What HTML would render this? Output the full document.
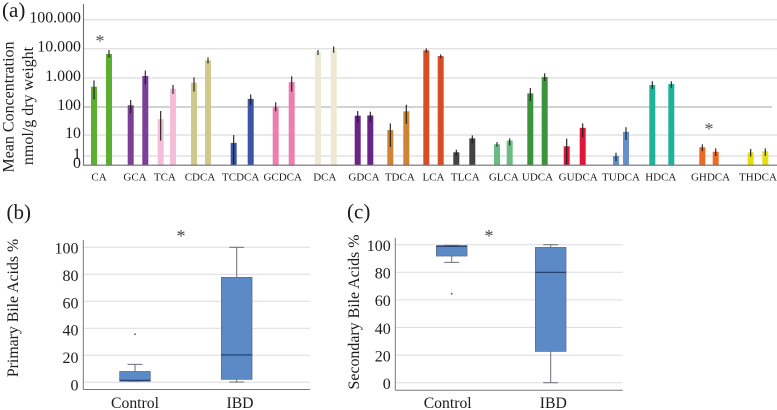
<!DOCTYPE html>
<html lang="en">
<head>
<meta charset="utf-8">
<title>Bile acid concentrations</title>
<style>
html,body{margin:0;padding:0;background:#fff;}
body{width:777px;height:410px;overflow:hidden;}
svg{display:block;font-family:"Liberation Serif",serif;}
text{fill:#1c1c1c;}
</style>
</head>
<body>
<svg id="figure" width="777" height="410" viewBox="0 0 777 410" xmlns="http://www.w3.org/2000/svg">
  <text x="2" y="17" font-size="21">(a)</text>
  <text x="6.5" y="219" font-size="21">(b)</text>
  <text x="347" y="218.5" font-size="21">(c)</text>
  <text transform="translate(13.5,107) rotate(-90)" text-anchor="middle" font-size="16">Mean Concentration</text>
  <text transform="translate(33,106) rotate(-90)" text-anchor="middle" font-size="16">nmol/g dry weight</text>
  <text transform="translate(18,308) rotate(-90)" text-anchor="middle" font-size="15.8">Primary Bile Acids %</text>
  <text transform="translate(359,312) rotate(-90)" text-anchor="middle" font-size="15.9">Secondary Bile Acids %</text>
  <text x="100" y="47" text-anchor="middle" font-size="18" style="fill:#555">*</text>
  <text x="709" y="135" text-anchor="middle" font-size="18" style="fill:#555">*</text>
  <text x="181" y="242" text-anchor="middle" font-size="18" style="fill:#444">*</text>
  <text x="489" y="242" text-anchor="middle" font-size="18" style="fill:#444">*</text>
</svg>
<script>
// ---- Panel (a) data ----
const categories = ["CA","GCA","TCA","CDCA","TCDCA","GCDCA","DCA","GDCA","TDCA","LCA","TLCA","GLCA","UDCA","GUDCA","TUDCA","HDCA","GHDCA","THDCA"];
const controlMeans = [500,115,37,690,4.2,103,7700,49,15,8800,1.5,3.6,295,2.9,1,575,2.6,1.5];
const controlLow   = [183,60,5.4,340,0,70,6050,28,2.7,7300,1.07,2.8,160,0,0.41,415,1.67,0.93];
const controlHigh  = [830,175,72,1050,10,145,9000,72,26,10200,2,4.6,455,6.7,1.44,770,3.6,2.15];
const ibdMeans = [6600,1170,430,4000,190,720,9000,50,70,5600,6.9,5.4,1080,18,13,620,1.6,1.67];
const ibdLow   = [4900,600,280,3150,115,340,7300,29,25,4700,4,3.2,790,7.7,5.8,455,1,1];
const ibdHigh  = [9000,1800,575,5000,270,1140,12000,68,120,6400,9.6,6.9,1450,26,19,770,2.3,2.3];
const barColors = ["#5bb12f","#7b3f98","#f6bdd8","#cfc98a","#3a55a5","#ec7fb0","#eee9d3","#6a2487","#cf8431","#d64e24","#434343","#6cbb82","#3b943b","#e2143a","#6490cc","#1db39b","#ee6a22","#e6df0e"];
const concentrationTicks = [0,1,10,100,1000,10000,100000];
const concentrationTickLabels = ["0","1","10","100","1.000","10.000","100.000"];

// ---- Panels (b), (c) data ----
const boxCategories = ["Control","IBD"];
const percentTicks = [0,20,40,60,80,100];
const primaryWhiskerLow = [0.8,0.2];
const primaryQ1 = [0.8,2.2];
const primaryMedian = [1.5,20.3];
const primaryQ3 = [8,77.7];
const primaryWhiskerHigh = [13.3,100];
const primaryOutliers = [35.6,null];
const secondaryWhiskerLow = [87.2,0];
const secondaryQ1 = [91.8,22.7];
const secondaryMedian = [98.8,80];
const secondaryQ3 = [99.3,98];
const secondaryWhiskerHigh = [99.5,100];
const secondaryOutliers = [64.5,null];

// ---- Axis layout for panel (a) ----
const bandAdvance = [101.5,36.5,28.85,34.15,41.2,41.5,42.15,38.15,34.3,35.2,30.8,39.05,34.15,37.2,46.3,40.8,47.2,49];
const pairSpread = [7.5,7.3,6.15,7,8.5,8,7.85,6.3,8,7.2,8,6.35,7.2,8,5,9.5,6.7,7.3];
const tickLabelShift = [-2.5,-3,-2,-1,-1.5,-1,-1,0,1.5,0,1,0.5,0,3.5,0,-1,1.5,0];
const decadeLengths = [21,28,29,29.3,29];

const svg = document.getElementById('figure');
const NS = 'http://www.w3.org/2000/svg';
function make(tag, attrs, parent, content) {
  const el = document.createElementNS(NS, tag);
  for (const k in attrs) el.setAttribute(k, attrs[k]);
  if (content !== undefined) el.textContent = content;
  parent.appendChild(el);
  return el;
}
function slug(s) { return String(s).toLowerCase().replace(/[^a-z0-9]+/g, '-'); }

// ---- Axis functions ----
const yZero = 165, unitLength = 9;
function yConc(v) {
  if (v <= 1) return yZero - Math.max(v, 0) * unitLength;
  const lg = Math.log10(v);
  let y = yZero - unitLength;
  for (let d = 0; d < decadeLengths.length; d++) {
    const part = Math.min(Math.max(lg - d, 0), 1);
    y -= part * decadeLengths[d];
  }
  return y;
}
function xBand(i) {
  let x = 0;
  for (let k = 0; k <= i; k++) x += bandAdvance[k];
  return x;
}

// ---- Panel (a) drawing ----
const chartA = make('g', {}, svg);



concentrationTicks.forEach(function (t, i) {
  const y = yConc(t);
  if (t > 0) {
    const grid = make('line', {x1: 84, x2: t === 100 ? 772 : 777, y1: y, y2: y, stroke: t === 100 ? '#c4c4c4' : '#e2e2e2', 'stroke-width': 1.4}, chartA);
    
    
  }
  const label = make('text', {x: 81, y: y + 3, 'text-anchor': 'end', 'font-size': 15.9}, chartA, concentrationTickLabels[i]);
  
  
});

function drawBar(value, low, high, x, color, name) {
  const w = 6;
  const bar = make('rect', {x: x - w / 2, y: yConc(value), width: w, height: yZero - yConc(value), fill: color}, chartA);
  
  
  const err = make('line', {x1: x, x2: x, y1: yConc(high), y2: yConc(low), stroke: '#1a1a1a', 'stroke-width': 1.1}, chartA);
  
  
}

categories.forEach(function (cat, i) {
  const cx = xBand(i);
  drawBar(controlMeans[i], controlLow[i], controlHigh[i], cx - pairSpread[i], barColors[i], slug(cat) + '-control');
  drawBar(ibdMeans[i], ibdLow[i], ibdHigh[i], cx + pairSpread[i], barColors[i], slug(cat) + '-ibd');
  const label = make('text', {x: cx + tickLabelShift[i], y: 180.5, 'text-anchor': 'middle', 'font-size': 11}, chartA, cat);
  
  
});

const axisAY = make('line', {x1: 83.5, x2: 83.5, y1: 4, y2: 165.5, stroke: '#6e6e78', 'stroke-width': 1.1}, chartA);


const axisAX = make('line', {x1: 83, x2: 777, y1: 165.2, y2: 165.2, stroke: '#6e6e78', 'stroke-width': 1.1}, chartA);



// ---- Box plot drawing ----
function drawBoxPlot(cfg) {
  const g = make('g', {}, svg);
  
  
  const y = function (v) { return cfg.y0 - v * cfg.scale; };
  const yLabel = function (v) { return cfg.labelY0 - v * cfg.labelScale; };

  percentTicks.forEach(function (t) {
    const grid = make('line', {x1: cfg.left, x2: cfg.right, y1: y(t), y2: y(t), stroke: '#dcdce0', 'stroke-width': 1}, g);
    
    
    const label = make('text', {x: cfg.tickRight, y: yLabel(t), 'text-anchor': 'end', 'font-size': 16}, g, String(t));
    
    
  });

  boxCategories.forEach(function (cat, i) {
    const c = cfg.centers[i];
    const n = slug(cat);
    const stem = make('line', {x1: c, x2: c, y1: y(cfg.whiskerHigh[i]), y2: y(cfg.whiskerLow[i]), stroke: '#6d6d75', 'stroke-width': 1}, g);
    
    
    [cfg.whiskerHigh[i], cfg.whiskerLow[i]].forEach(function (v) {
      const cap = make('line', {x1: c - 7.5, x2: c + 7.5, y1: y(v), y2: y(v), stroke: '#6d6d75', 'stroke-width': 1}, g);
      
      
    });
    const box = make('rect', {x: c - 15.3, y: y(cfg.q3[i]), width: 30.6, height: y(cfg.q1[i]) - y(cfg.q3[i]), fill: '#5b8ac6', stroke: '#5a6f90', 'stroke-width': 0.8}, g);
    
    
    const med = make('line', {x1: c - 15.3, x2: c + 15.3, y1: y(cfg.median[i]), y2: y(cfg.median[i]), stroke: '#1f3a66', 'stroke-width': 1.1}, g);
    
    
    if (cfg.outliers[i] !== null) {
      const dot = make('circle', {cx: c, cy: y(cfg.outliers[i]), r: 0.9, fill: '#555'}, g);
      
      
    }
    const tick = make('text', {x: cfg.labelCenters[i], y: 408, 'text-anchor': 'middle', 'font-size': 15.7}, g, cat);
    
    
  });

  const ay = make('line', {x1: cfg.left, x2: cfg.left, y1: cfg.axisTop, y2: cfg.axisBottom, stroke: '#77777f', 'stroke-width': 1}, g);
  
  
  const ax = make('line', {x1: cfg.left, x2: cfg.right, y1: cfg.axisBottom, y2: cfg.axisBottom, stroke: '#77777f', 'stroke-width': 1}, g);
  
  
}

drawBoxPlot({
  name: 'primary-bile-acids-boxplot', left: 83.3, right: 310, axisTop: 240, axisBottom: 389.5,
  y0: 382.3, scale: 1.35, labelY0: 390.7, labelScale: 1.374, tickRight: 78.5, centers: [135, 236.7], labelCenters: [135, 240],
  whiskerLow: primaryWhiskerLow, q1: primaryQ1, median: primaryMedian, q3: primaryQ3,
  whiskerHigh: primaryWhiskerHigh, outliers: primaryOutliers
});
drawBoxPlot({
  name: 'secondary-bile-acids-boxplot', left: 395.3, right: 622.7, axisTop: 237.7, axisBottom: 390.3,
  y0: 382.7, scale: 1.38, labelY0: 389, labelScale: 1.38, tickRight: 390.7, centers: [451.7, 550.7], labelCenters: [447.7, 553.3],
  whiskerLow: secondaryWhiskerLow, q1: secondaryQ1, median: secondaryMedian, q3: secondaryQ3,
  whiskerHigh: secondaryWhiskerHigh, outliers: secondaryOutliers
});
</script>
</body>
</html>
